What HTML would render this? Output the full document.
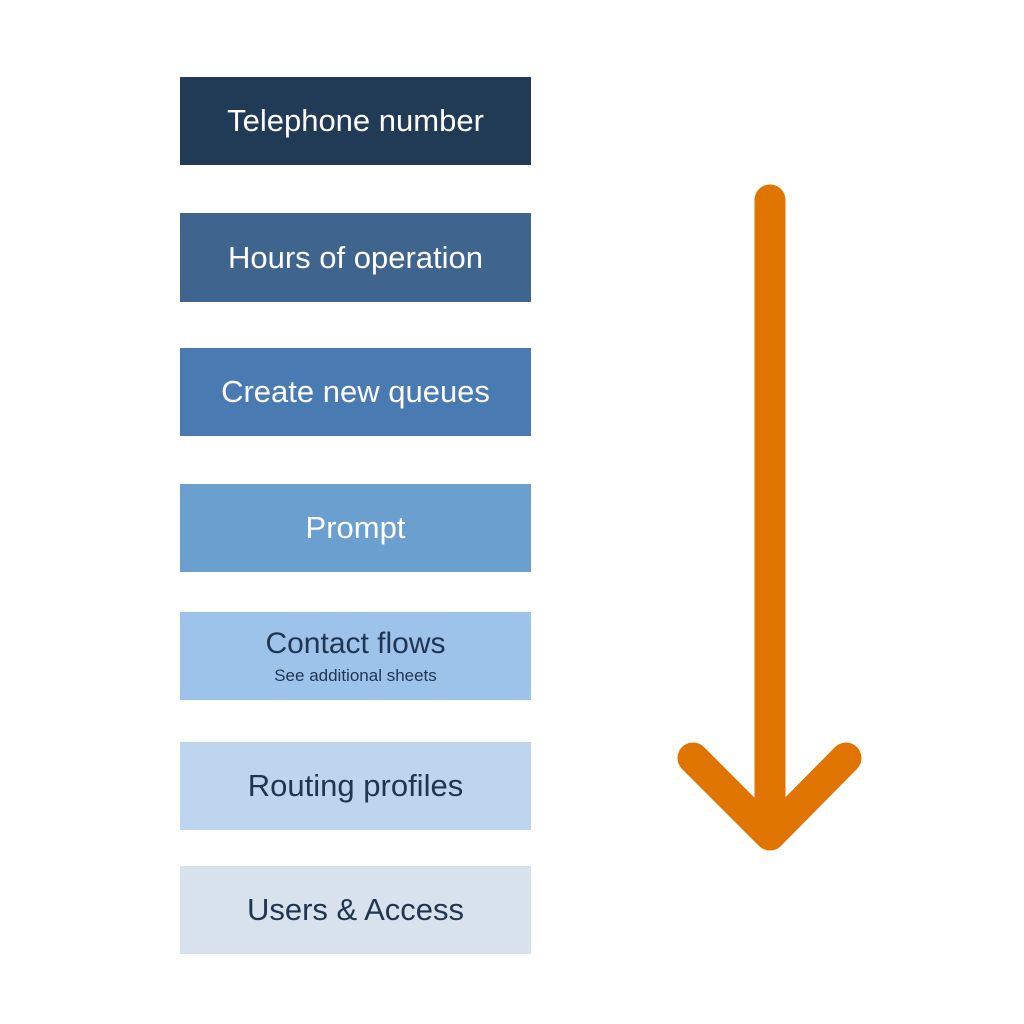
<!DOCTYPE html>
<html><head><style>
body{margin:0;width:1024px;height:1024px;background:#fff;position:relative;font-family:"Liberation Sans",sans-serif;overflow:hidden}
.b{position:absolute;left:180px;width:351px;display:flex;flex-direction:column;align-items:center;justify-content:center;font-size:31px}
.w{color:#fff}.d{color:#1f3550}
small{font-size:17px;margin-top:5px}
</style></head><body>
<div class="b w" style="top:77px;height:88px;background:#213a56">Telephone number</div>
<div class="b w" style="top:213px;height:89px;background:#3f658f">Hours of operation</div>
<div class="b w" style="top:348px;height:88px;background:#4a7ab2">Create new queues</div>
<div class="b w" style="top:484px;height:88px;background:#6b9fd0">Prompt</div>
<div class="b d" style="top:612px;height:88px;background:#9dc3ea;font-size:30px">Contact flows<small>See additional sheets</small></div>
<div class="b d" style="top:742px;height:88px;background:#bdd5ee">Routing profiles</div>
<div class="b d" style="top:866px;height:88px;background:#d8e2ed">Users &amp; Access</div>
<svg width="1024" height="1024" style="position:absolute;left:0;top:0">
<g stroke="#e07400" stroke-width="31" stroke-linecap="round" stroke-linejoin="round" fill="none">
<line x1="770" y1="200" x2="770" y2="830"/>
<polyline points="693,758 770,835 846,758"/>
</g></svg>
</body></html>
